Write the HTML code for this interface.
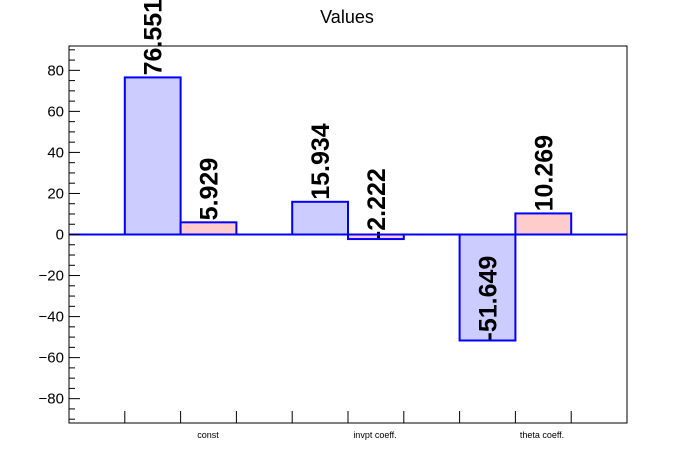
<!DOCTYPE html>
<html><head><meta charset="utf-8"><style>
body{margin:0;background:#fff;}
svg{display:block;font-family:"Liberation Sans",Arial,sans-serif;}
</style></head><body>
<svg id="chart" width="696" height="472" viewBox="0 0 696 472">
<rect x="0" y="0" width="696" height="472" fill="#fff"/>
<text x="347" y="23" font-size="18" text-anchor="middle">Values</text>
<g id="plot"></g>
</svg>
<script>
const categories = ["const", "invpt coeff.", "theta coeff."];
const seriesA = [76.551, 15.934, -51.649];
const seriesB = [5.929, -2.222, 10.269];
const yTicks = [-80, -60, -40, -20, 0, 20, 40, 60, 80];

const L = 69, R = 627, T = 46, B = 423;
const yMin = -91.86, yMax = 91.86, nBins = 10;
const binW = (R - L) / nBins;
function y(v){ return T + (yMax - v) / (yMax - yMin) * (B - T); }
function xBin(i){ return L + i * binW; }
const NS = "http://www.w3.org/2000/svg";
const g = document.getElementById("plot");
function mk(tag, attrs, parent){ const e = document.createElementNS(NS, tag); for (const k in attrs) e.setAttribute(k, attrs[k]); (parent||g).appendChild(e); return e; }

// bars
categories.forEach((c, i) => {
  [[seriesA[i], "#ccccff", 1], [seriesB[i], "#ffcccc", 2]].forEach(([v, fill, off], j) => {
    const b = 3 * i + off;
    const x0 = xBin(b), y0 = y(Math.max(v, 0)), h = Math.abs(y(v) - y(0));
    const r = mk("rect", {x: x0, y: y0, width: binW, height: Math.max(h, 0.5), fill: fill, stroke: "#0000ff", "stroke-width": 2});
    
    
    const cx = x0 + binW / 2 + 9, ty = y(v) - (v >= 0 ? 2 : 0);
    const t = mk("text", {x: cx, y: ty, "font-size": 25, "font-weight": "bold", transform: "rotate(-90 " + cx + " " + ty + ")"});
    t.textContent = v.toFixed(3);
    
    
  });
});
// zero line
const zl = mk("line", {x1: L, x2: R, y1: y(0), y2: y(0), stroke: "#0000ff", "stroke-width": 2});



// frame
const fr = mk("rect", {x: L, y: T, width: R - L, height: B - T, fill: "none", stroke: "#000", "stroke-width": 1});



// y ticks
for (let v = -90; v <= 90; v += 5) {
  const major = v % 20 === 0;
  const tk = mk("line", {x1: L, x2: L + (major ? 11 : 6), y1: y(v), y2: y(v), stroke: "#000", "stroke-width": 1});
  
  
}
yTicks.forEach(v => {
  const t = mk("text", {x: 64, y: y(v) + 5, "font-size": 15, "text-anchor": "end"});
  t.textContent = v < 0 ? "\u2212" + Math.abs(v) : String(v);
  
  
});
// x ticks
for (let i = 1; i < nBins; i++) {
  const tk = mk("line", {x1: xBin(i), x2: xBin(i), y1: B, y2: B - 12, stroke: "#000", "stroke-width": 1});
  
  
}
categories.forEach((c, i) => {
  const t = mk("text", {x: xBin(3 * i + 2) - 30 + i * 0 + 56 * 0.5 - 0, y: 438, "font-size": 9, "text-anchor": "middle"});
  t.setAttribute("x", [208, 375, 542][i]);
  t.textContent = c;
  
  
});
</script>
</body></html>
